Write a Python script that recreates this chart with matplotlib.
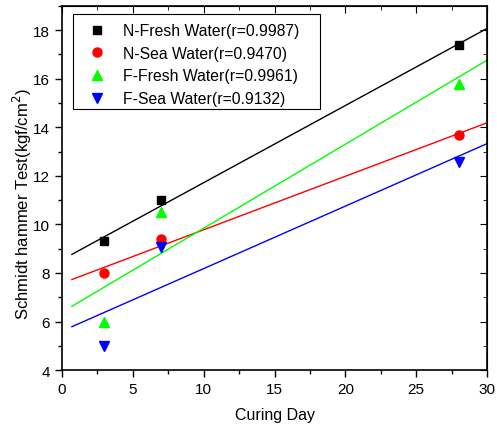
import matplotlib
matplotlib.use("Agg")
import matplotlib.pyplot as plt
from matplotlib.patches import Rectangle
import numpy as np

plt.rcParams['font.family'] = ['Liberation Sans', 'DejaVu Sans']

days = [3, 7, 28]
n_fresh = [9.3, 11.0, 17.4]
n_sea = [8.0, 9.4, 13.7]
f_fresh = [6.0, 10.5, 15.8]
f_sea = [5.0, 9.05, 12.55]

labels = ["N-Fresh Water(r=0.9987)", "N-Sea Water(r=0.9470)",
          "F-Fresh Water(r=0.9961)", "F-Sea Water(r=0.9132)"]
colors = ["#000000", "#ff0000", "#00ff00", "#0000ff"]
markers = ["s", "o", "^", "v"]
sizes = [6, 6.5, 7.5, 7.5]

fig = plt.figure(figsize=(4.97, 4.31), dpi=100)
ax = fig.add_axes([0.1247, 0.139, 0.8553, 0.845])

xfit = np.array([0.7, 30])
for y, lab, c, m, s in zip([n_fresh, n_sea, f_fresh, f_sea], labels, colors, markers, sizes):
    ax.plot(days, y, linestyle='none', marker=m, color=c, markersize=s, label=lab)
    k, b = np.polyfit(days, y, 1)
    ax.plot(xfit, k * xfit + b, color=c, lw=1)

ax.set_xlim(0, 30)
ax.set_ylim(4, 19)
ax.set_xticks(np.arange(0, 31, 5))
ax.set_xticks(np.arange(0, 31, 2.5), minor=True)
ax.set_yticks(np.arange(4, 19, 2))
ax.set_yticks(np.arange(4, 19.1, 1), minor=True)
ax.tick_params(which='major', direction='out', length=5, width=1, labelsize=11)
ax.tick_params(which='minor', direction='out', length=3, width=1)
for sp in ax.spines.values():
    sp.set_linewidth(1.2)

top = ax.secondary_xaxis('top')
top.set_xticks(np.arange(0, 31, 5))
top.set_xticks(np.arange(0, 31, 2.5), minor=True)
top.tick_params(which='both', direction='in', labeltop=False)
top.tick_params(which='major', length=5)
top.tick_params(which='minor', length=3)
right = ax.secondary_yaxis('right')
right.set_yticks(np.arange(4, 19, 2))
right.set_yticks(np.arange(4, 19.1, 1), minor=True)
right.tick_params(which='both', direction='in', labelright=False)
right.tick_params(which='major', length=5)
right.tick_params(which='minor', length=3)

ax.set_xlabel("Curing Day", fontsize=11.5, labelpad=8)
ax.set_ylabel("Schmidt hammer Test(kgf/cm$^2$)", fontsize=12)
ax.yaxis.set_label_coords(-0.066, 0.459)

# legend entries without frame, box drawn separately (Origin style padding)
leg = ax.legend(loc='upper left', bbox_to_anchor=(0.026, 0.967), fontsize=11.3,
                frameon=False, handlelength=2.4,
                handletextpad=0.45, borderpad=0.35, labelspacing=0.48,
                borderaxespad=0)
ax.add_patch(Rectangle((0.026, 0.717), 0.581, 0.261, transform=ax.transAxes,
                       facecolor='white', edgecolor='black', lw=0.8, zorder=4))
leg.set_zorder(5)

fig.savefig("out.png", dpi=100)
